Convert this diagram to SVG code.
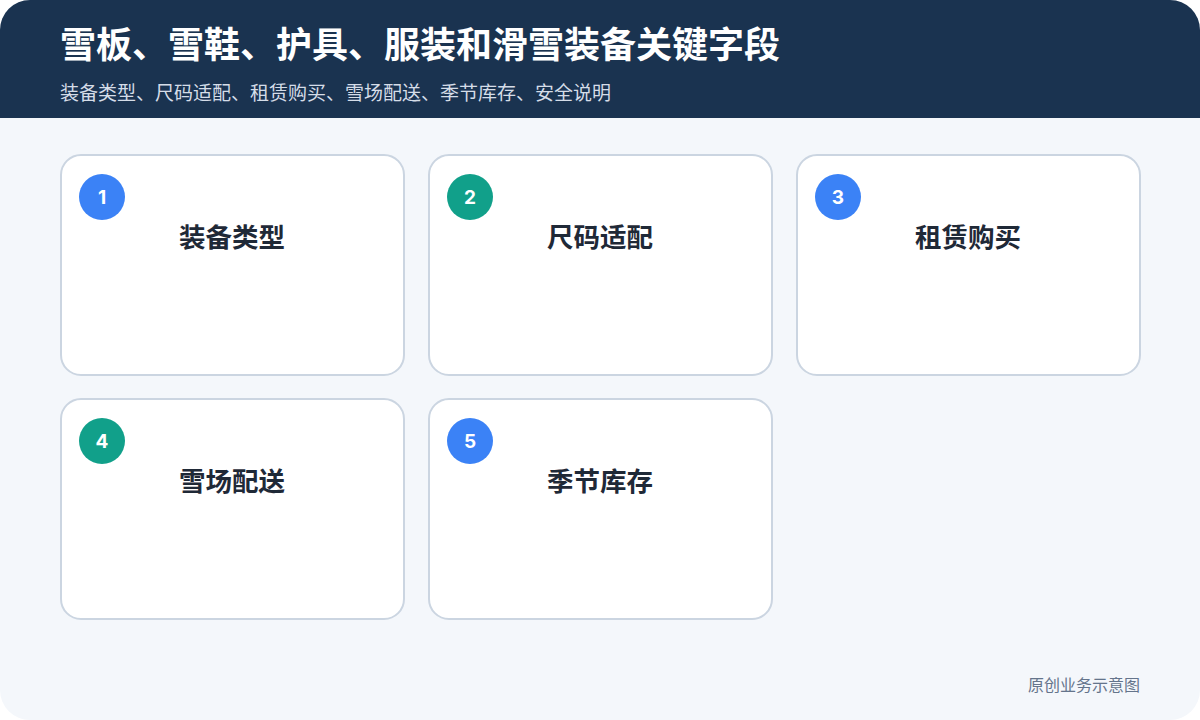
<svg xmlns="http://www.w3.org/2000/svg" width="1200" height="720" viewBox="0 0 1200 720">
<defs>
<style>
.card{fill:#ffffff;stroke:#cbd5e1;stroke-width:2}
.num{font-family:"Inter","Noto Sans",sans-serif;font-size:19px;font-weight:700;fill:#ffffff;text-anchor:middle}
.title{font-family:"Noto Sans CJK SC",sans-serif;font-size:26.5px;font-weight:700;fill:#1f2937;text-anchor:middle}
.blue{fill:#3b82f6}
.teal{fill:#11a08a}
</style>
<clipPath id="frame"><rect x="0" y="0" width="1200" height="720" rx="30"/></clipPath>
</defs>
<rect width="1200" height="720" fill="#ffffff"/>
<g clip-path="url(#frame)">
<rect x="0" y="0" width="1200" height="720" fill="#f4f7fb"/>
<rect x="0" y="0" width="1200" height="118" fill="#1a3350"/>
</g>
<text x="60" y="58" font-family="Noto Sans CJK SC, sans-serif" font-size="36" font-weight="700" fill="#ffffff">雪板、雪鞋、护具、服装和滑雪装备关键字段</text>
<text x="60" y="100" font-family="Noto Sans CJK SC, sans-serif" font-size="19" fill="#d5dde8">装备类型、尺码适配、租赁购买、雪场配送、季节库存、安全说明</text>
<g id="node1">
<rect class="card" x="61" y="155" width="343" height="220" rx="20"/>
<circle class="blue" cx="102" cy="197" r="23"/>
<text class="num" x="102" y="204">1</text>
<text class="title" x="232" y="247">装备类型</text>
</g>
<g id="node2">
<rect class="card" x="429" y="155" width="343" height="220" rx="20"/>
<circle class="teal" cx="470" cy="197" r="23"/>
<text class="num" x="470" y="204">2</text>
<text class="title" x="600" y="247">尺码适配</text>
</g>
<g id="node3">
<rect class="card" x="797" y="155" width="343" height="220" rx="20"/>
<circle class="blue" cx="838" cy="197" r="23"/>
<text class="num" x="838" y="204">3</text>
<text class="title" x="968" y="247">租赁购买</text>
</g>
<g id="node4">
<rect class="card" x="61" y="399" width="343" height="220" rx="20"/>
<circle class="teal" cx="102" cy="441" r="23"/>
<text class="num" x="102" y="448">4</text>
<text class="title" x="232" y="491">雪场配送</text>
</g>
<g id="node5">
<rect class="card" x="429" y="399" width="343" height="220" rx="20"/>
<circle class="blue" cx="470" cy="441" r="23"/>
<text class="num" x="470" y="448">5</text>
<text class="title" x="600" y="491">季节库存</text>
</g>
<g id="connectors"></g>
<text x="1140" y="691" text-anchor="end" font-family="Noto Sans CJK SC, sans-serif" font-size="16" fill="#64748b">原创业务示意图</text>
</svg>
